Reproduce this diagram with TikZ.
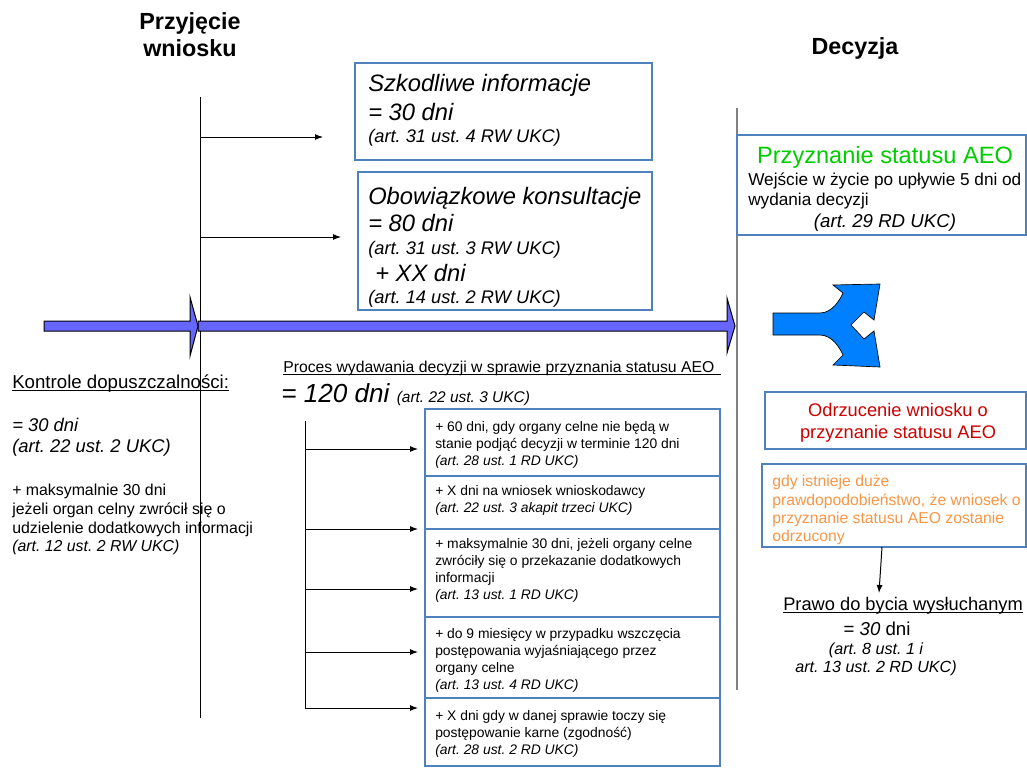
\documentclass[tikz,border=0pt]{standalone}
\usepackage{fontspec}
\setmainfont{Liberation Sans}
\frenchspacing
\usetikzlibrary{fit,arrows,arrows.meta}

\definecolor{boxblue}{RGB}{79,129,189}
\definecolor{barblue}{RGB}{102,102,255}
\definecolor{forkblue}{RGB}{0,128,255}
\definecolor{okgreen}{RGB}{0,204,0}
\definecolor{nored}{RGB}{204,0,0}
\definecolor{warnorange}{RGB}{247,150,70}
\definecolor{axisgray}{RGB}{128,128,128}

\begin{document}
\begin{tikzpicture}[
x=0.75pt,
y=-0.75pt,
bbox/.style={
  draw=boxblue,
  line width=1.5pt,
  inner sep=0pt
  },
head/.style={
  font=\bfseries\fontsize{17.5}{20.25}\selectfont,
  align=center
  },
big/.style={
  anchor=base west,
  inner sep=0pt,
  font=\itshape\fontsize{17.8}{21}\selectfont
  },
mid/.style={
  anchor=base west,
  inner sep=0pt,
  font=\itshape\fontsize{13.7}{16}\selectfont
  },
block/.style={
  anchor=north west,
  inner sep=0pt,
  align=left
  },
link/.style={
  ->,
  line width=0.75pt
  },
>={Latex[length=6pt,width=4.5pt]}
]
\useasboundingbox (0,0) rectangle (1027,767);

% naglowki
\node[head] (przyjecie) at (190,35) {Przyjęcie\\wniosku};
\node[head, anchor=base] (decyzja) at (855,55) {Decyzja};

% osie czasu
\coordinate (pw-top) at (200,97);
\coordinate (pw-bot) at (200,718);
\draw[line width=0.75pt] (pw-top) -- (pw-bot);
\coordinate (dec-top) at (737,108);
\coordinate (dec-bot) at (737,690);
\draw[axisgray, line width=1.5pt] (dec-top) -- (dec-bot);

% gorne ramki
\node[bbox, fit={(355,63) (652,160)}] (szkod) {};
\node[bbox, fit={(358,172) (652,310)}] (konsult) {};
\node[big] (szkod-1) at (368,92) {Szkodliwe informacje};
\node[big] (szkod-2) at (368,120) {= 30 dni};
\node[mid] (szkod-3) at (368,142) {(art. 31 ust. 4 RW UKC)};
\node[big] (konsult-1) at (368,204) {Obowiązkowe konsultacje};
\node[big] (konsult-2) at (368,231) {= 80 dni};
\node[mid] (konsult-3) at (368,254) {(art. 31 ust. 3 RW UKC)};
\node[big] (konsult-4) at (375,281) {+ XX dni};
\node[mid] (konsult-5) at (368,303) {(art. 14 ust. 2 RW UKC)};

\coordinate (szkod-from) at (200,137);
\coordinate (szkod-to) at (323,137);
\coordinate (konsult-from) at (200,237);
\coordinate (konsult-to) at (341,237);
\draw[link] (szkod-from) -- (szkod-to);
\draw[link] (konsult-from) -- (konsult-to);

% strzalki procesu
\draw[fill=barblue, line width=0.75pt] (198,321) -- (727,321) -- (727,298) -- (735,326)
  -- (727,353) -- (727,331) -- (198,331) -- cycle;
\draw[fill=barblue, line width=0.75pt] (44,321) -- (190,321) -- (190,297) -- (198,326)
  -- (190,356) -- (190,331) -- (44,331) -- cycle;

% rozwidlenie
\draw[fill=forkblue, line width=0.5pt] (773,313) -- (820,313)
  .. controls (832,313) and (840,300) .. (843,293) -- (833,285) -- (880,284)
  -- (874,320) -- (864,312) -- (851,325) -- (864,339) -- (874,331) -- (880,367)
  -- (833,365) -- (843,355) .. controls (840,348) and (832,335) .. (820,335)
  -- (773,335) -- cycle;

% kontrole dopuszczalnosci
\node[anchor=base west, inner sep=0pt, font=\fontsize{14}{17}\selectfont] (kontrole) at (12,388)
  {Kontrole dopuszczalności:};
\draw[line width=0.75pt] ([yshift=-1.5pt]kontrole.base west) -- ([yshift=-1.5pt]kontrole.base east);
\node[block, font=\itshape\fontsize{13.8}{15.75}\selectfont] (kontrole-30) at (12,418)
  {= 30 dni\\(art. 22 ust. 2 UKC)};
\node[block, font=\fontsize{11.9}{14}\selectfont] (kontrole-plus) at (12,484)
  {+ maksymalnie 30 dni\\jeżeli organ celny zwrócił się o\\udzielenie dodatkowych informacji\\\textit{(art. 12 ust. 2 RW UKC)}};

% proces wydawania decyzji
\node[anchor=base west, inner sep=0pt, font=\fontsize{11.8}{14}\selectfont] (proces) at (283,372)
  {Proces wydawania decyzji w sprawie przyznania statusu AEO};
\draw[line width=0.75pt] ([yshift=-1.5pt]proces.base west) -- ([yshift=-1.5pt, xshift=4.5pt]proces.base east);
\node[anchor=base west, inner sep=0pt, font=\itshape\fontsize{19.6}{22}\selectfont] (proces-120) at (281,402)
  {= 120 dni {\fontsize{11.6}{14}\selectfont (art. 22 ust. 3 UKC)}};

% przedluzenia terminu
\coordinate (ext-top) at (305,421);
\foreach \yy [count=\i] in {449,529,589,652,708}
{
  \coordinate (ext-from\i) at (305,\yy);
  \coordinate (ext-to\i) at (418,\yy);
  \draw[link] (ext-from\i) -- (ext-to\i);
}
\draw[line width=0.75pt] (ext-top) -- (ext-from5);

\node[bbox, fit={(425,409) (720,476)}] (ext1) {};
\node[bbox, fit={(425,476) (720,529)}] (ext2) {};
\node[bbox, fit={(425,529) (720,617)}] (ext3) {};
\node[bbox, fit={(425,617) (720,698)}] (ext4) {};
\node[bbox, fit={(425,698) (720,766)}] (ext5) {};

\tikzset{ext/.style={block, font=\fontsize{10.4}{12.75}\selectfont}}
\node[ext] (ext1-txt) at (435,421)
  {+ 60 dni, gdy organy celne nie będą w\\stanie podjąć decyzji w terminie 120 dni\\\textit{(art. 28 ust. 1 RD UKC)}};
\node[ext] (ext2-txt) at (435,485)
  {+ X dni na wniosek wnioskodawcy\\\textit{(art. 22 ust. 3 akapit trzeci UKC)}};
\node[ext] (ext3-txt) at (435,538)
  {+ maksymalnie 30 dni, jeżeli organy celne\\zwróciły się o przekazanie dodatkowych\\informacji\\\textit{(art. 13 ust. 1 RD UKC)}};
\node[ext] (ext4-txt) at (435,628)
  {+ do 9 miesięcy w przypadku wszczęcia\\postępowania wyjaśniającego przez\\organy celne\\\textit{(art. 13 ust. 4 RD UKC)}};
\node[ext] (ext5-txt) at (435,710)
  {+ X dni gdy w danej sprawie toczy się\\postępowanie karne (zgodność)\\\textit{(art. 28 ust. 2 RD UKC)}};

% decyzja pozytywna
\node[bbox, fit={(737,135) (1026,235)}] (przyzn) {};
\node[anchor=base, inner sep=0pt, text=okgreen, font=\fontsize{17.7}{21}\selectfont] (przyzn-tyt) at (885,163)
  {Przyznanie statusu AEO};
\node[block, font=\fontsize{12.9}{15}\selectfont] (przyzn-txt) at (748,173)
  {Wejście w życie po upływie 5 dni od\\wydania decyzji};
\node[anchor=base, inner sep=0pt, font=\itshape\fontsize{14}{16}\selectfont] (przyzn-art) at (885,227)
  {(art. 29 RD UKC)};

% decyzja negatywna
\node[bbox, fit={(765,392) (1026,449)}] (odrz) {};
\node[anchor=north, inner sep=0pt, align=center, text=nored, font=\fontsize{13.7}{16.5}\selectfont] (odrz-txt) at (898,403)
  {Odrzucenie wniosku o\\przyznanie statusu AEO};

\node[bbox, fit={(762,464) (1026,547)}] (gdy) {};
\node[block, text=warnorange, font=\fontsize{11.8}{13.75}\selectfont] (gdy-txt) at (772,475)
  {gdy istnieje duże\\prawdopodobieństwo, że wniosek o\\przyznanie statusu AEO zostanie\\odrzucony};

\node[anchor=base west, inner sep=0pt, font=\fontsize{13.7}{16}\selectfont] (prawo) at (783,610)
  {Prawo do bycia wysłuchanym};
\draw[line width=0.75pt] ([yshift=-1.5pt]prawo.base west) -- ([yshift=-1.5pt]prawo.base east);
\coordinate (gdy-out) at (882,547);
\coordinate (prawo-in) at (879,593);
\draw[link] (gdy-out) -- (prawo-in);
\node[anchor=base, inner sep=0pt, font=\fontsize{14}{16}\selectfont] (prawo-30) at (877,635)
  {= \textit{30} dni};
\node[anchor=north, inner sep=0pt, align=center, font=\itshape\fontsize{12.1}{13.5}\selectfont] (prawo-art) at (876,643)
  {(art. 8 ust. 1 i\\art. 13 ust. 2 RD UKC)};

\end{tikzpicture}
\end{document}
